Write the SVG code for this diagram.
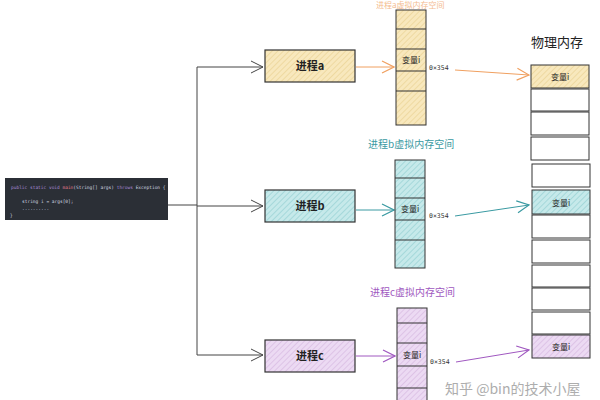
<svg xmlns="http://www.w3.org/2000/svg" width="600" height="400" viewBox="0 0 600 400">
<defs>
<pattern id="hy" width="4" height="4" patternUnits="userSpaceOnUse" patternTransform="rotate(45)"><rect width="4" height="4" fill="#f8e8bd"/><line x1="0" y1="0" x2="0" y2="4" stroke="#e3c77e" stroke-width="0.9"/></pattern>
<pattern id="hc" width="4" height="4" patternUnits="userSpaceOnUse" patternTransform="rotate(45)"><rect width="4" height="4" fill="#c6e9ea"/><line x1="0" y1="0" x2="0" y2="4" stroke="#7cc4c8" stroke-width="0.9"/></pattern>
<pattern id="hp" width="4" height="4" patternUnits="userSpaceOnUse" patternTransform="rotate(45)"><rect width="4" height="4" fill="#ecdaf3"/><line x1="0" y1="0" x2="0" y2="4" stroke="#c9a6d8" stroke-width="0.9"/></pattern>
<marker id="ak" viewBox="0 0 14 14" refX="13" refY="7" markerWidth="14" markerHeight="14" markerUnits="userSpaceOnUse" orient="auto"><path d="M1,1 L13,7 L1,13" fill="none" stroke="#444" stroke-width="1"/></marker>
<marker id="ao" viewBox="0 0 14 14" refX="13" refY="7" markerWidth="14" markerHeight="14" markerUnits="userSpaceOnUse" orient="auto"><path d="M1,1 L13,7 L1,13" fill="none" stroke="#f0a060" stroke-width="1.2"/></marker>
<marker id="at" viewBox="0 0 14 14" refX="13" refY="7" markerWidth="14" markerHeight="14" markerUnits="userSpaceOnUse" orient="auto"><path d="M1,1 L13,7 L1,13" fill="none" stroke="#3a9aa2" stroke-width="1.2"/></marker>
<marker id="ap" viewBox="0 0 14 14" refX="13" refY="7" markerWidth="14" markerHeight="14" markerUnits="userSpaceOnUse" orient="auto"><path d="M1,1 L13,7 L1,13" fill="none" stroke="#a058c0" stroke-width="1.2"/></marker>
</defs>
<style>
text{font-family:"Noto Sans CJK SC","Noto Sans",sans-serif}
.box{stroke:#333;stroke-width:1.2}
.cell{stroke:#333;stroke-width:1}
.white{fill:#fff}
.pl{font-size:11px;font-weight:bold;fill:#222;text-anchor:middle}
.var{font-size:8px;fill:#222;text-anchor:middle}
.addr{font-size:6.5px;fill:#333;font-family:"DejaVu Sans Mono",monospace}
.code{font-family:"DejaVu Sans Mono",monospace;font-size:4.5px;fill:#d5d9e0}
.line{fill:none;stroke-width:1}
</style>

<g id="code">
<rect x="5" y="178" width="163" height="42" fill="#2b2f36"/>
<text class="code" x="11" y="189"><tspan fill="#a98bd6">public static void </tspan><tspan fill="#e07a8a">main</tspan>(String[] args) <tspan fill="#a98bd6">throws</tspan> Exception {</text>
<text class="code" x="22" y="203">string i = args[0];</text>
<text class="code" x="22" y="210">..........</text>
<text class="code" x="10" y="217">}</text>
</g>

<g id="connectors">
<path class="line" stroke="#444" d="M168,205 H197"/>
<path class="line" stroke="#444" d="M197,67 V355"/>
<path class="line" stroke="#444" d="M197,67 H263" marker-end="url(#ak)"/>
<path class="line" stroke="#444" d="M197,206 H263" marker-end="url(#ak)"/>
<path class="line" stroke="#444" d="M197,355 H263" marker-end="url(#ak)"/>
<path class="line" stroke="#f0a060" stroke-width="1.3" d="M356,67 H394" marker-end="url(#ao)"/>
<path class="line" stroke="#3a9aa2" stroke-width="1.3" d="M356,210 H394" marker-end="url(#at)"/>
<path class="line" stroke="#a058c0" stroke-width="1.3" d="M356,356 H395" marker-end="url(#ap)"/>
<path class="line" stroke="#f0a060" d="M455,70 L529,75" marker-end="url(#ao)"/>
<path class="line" stroke="#3a9aa2" d="M455,216 L529,205" marker-end="url(#at)"/>
<path class="line" stroke="#a058c0" d="M456,362 L529,350" marker-end="url(#ap)"/>
</g>

<g id="proc-a">
<rect class="box" x="265" y="50" width="90" height="32" fill="url(#hy)"/>
<text class="pl" x="310" y="70">进程a</text>
</g>
<g id="proc-b">
<rect class="box" x="265" y="190" width="90" height="32" fill="url(#hc)"/>
<text class="pl" x="310" y="210">进程b</text>
</g>
<g id="proc-c">
<rect class="box" x="265" y="340" width="90" height="32" fill="url(#hp)"/>
<text class="pl" x="310" y="360">进程c</text>
</g>

<g id="vmem-a">
<text x="376" y="8" font-size="8" fill="#f0a060" opacity="0.7">进程a虚拟内存空间</text>
<rect class="cell" x="396" y="10" width="30" height="115" fill="url(#hy)"/>
<path class="cell" d="M396,29 H426 M396,49 H426 M396,71 H426 M396,91 H426"/>
<text class="var" x="411" y="63">变量i</text>
<text class="addr" x="429" y="70">0×354</text>
</g>
<g id="vmem-b">
<text x="368" y="148" font-size="10" fill="#3a9aa2">进程b虚拟内存空间</text>
<rect class="cell" x="395" y="160" width="30" height="108" fill="url(#hc)"/>
<path class="cell" d="M395,178 H425 M395,198 H425 M395,220 H425 M395,240 H425"/>
<text class="var" x="410" y="212">变量i</text>
<text class="addr" x="429" y="218">0×354</text>
</g>
<g id="vmem-c">
<text x="370" y="296" font-size="10" fill="#a058c0">进程c虚拟内存空间</text>
<rect class="cell" x="397" y="308" width="30" height="100" fill="url(#hp)"/>
<path class="cell" d="M397,323 H427 M397,343 H427 M397,366 H427 M397,388 H427"/>
<text class="var" x="412" y="358">变量i</text>
<text class="addr" x="430" y="364">0×354</text>
</g>

<g id="pmem">
<text x="531" y="47" font-size="13" fill="#222">物理内存</text>
<rect class="cell" x="531" y="65" width="58" height="23" fill="url(#hy)"/>
<text class="var" x="560" y="80">变量i</text>
<rect class="cell white" x="531" y="89" width="58" height="22"/>
<rect class="cell white" x="531" y="112" width="58" height="23"/>
<rect class="cell white" x="531" y="137" width="58" height="23"/>
<rect class="cell white" x="532" y="164" width="58" height="23"/>
<rect class="cell" x="532" y="190" width="58" height="24" fill="url(#hc)"/>
<text class="var" x="561" y="206">变量i</text>
<rect class="cell white" x="532" y="215" width="58" height="23"/>
<rect class="cell white" x="532" y="240" width="58" height="23"/>
<rect class="cell white" x="532" y="265" width="58" height="22"/>
<rect class="cell white" x="532" y="288" width="58" height="22"/>
<rect class="cell white" x="532" y="312" width="58" height="22"/>
<rect class="cell" x="532" y="335" width="58" height="23" fill="url(#hp)"/>
<text class="var" x="561" y="350">变量i</text>
</g>

<text x="445" y="394" font-size="14" fill="#999" opacity="0.8">知乎 @bin的技术小屋</text>
</svg>
